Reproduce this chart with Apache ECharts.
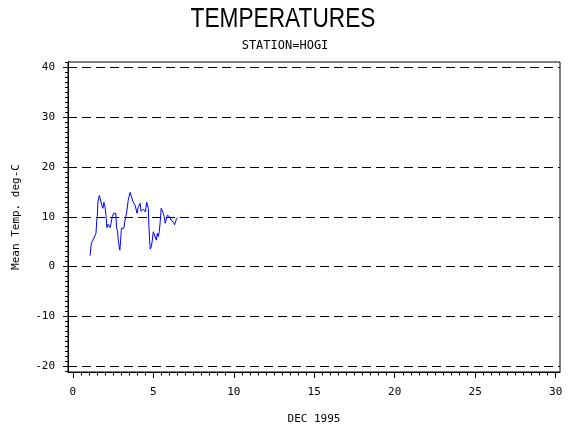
<!DOCTYPE html>
<html>
<head>
<meta charset="utf-8">
<script src="https://cdn.jsdelivr.net/npm/echarts@6/dist/echarts.min.js"></script>
<style>
  html, body { margin: 0; padding: 0; background: #fff; }
  #chart { width: 570px; height: 430px; }
</style>
</head>
<body>
<div id="chart"></div>
<script>
// day of month (DEC 1995) and mean temperature
const days = [1.07, 1.15, 1.25, 1.36, 1.44, 1.48, 1.52, 1.56, 1.65, 1.71, 1.75, 1.81, 1.87, 1.93, 2.0,
  2.06, 2.12, 2.18, 2.26, 2.32, 2.39, 2.45, 2.53, 2.61, 2.67, 2.72, 2.78, 2.82, 2.88, 2.92, 2.96,
  3.02, 3.11, 3.17, 3.23, 3.29, 3.35, 3.44, 3.5, 3.56, 3.62, 3.68, 3.74, 3.81, 3.87, 3.93, 3.99,
  4.05, 4.12, 4.18, 4.24, 4.3, 4.38, 4.44, 4.51, 4.59, 4.65, 4.69, 4.73, 4.77, 4.81, 4.88, 4.94,
  5.0, 5.06, 5.12, 5.19, 5.25, 5.31, 5.37, 5.43, 5.49, 5.56, 5.62, 5.68, 5.74, 5.8, 5.87, 5.95,
  6.01, 6.07, 6.13, 6.2, 6.26, 6.32, 6.38, 6.44, 6.5];
const temps = [2.2, 4.7, 5.3, 5.4, 6.7, 9.0, 10.0, 13.0, 14.3, 14.4, 13.0, 12.2, 11.7, 12.9, 12.0,
  10.3, 7.8, 8.5, 8.7, 7.8, 7.5, 10.0, 10.7, 10.9, 10.7, 7.7, 7.1, 5.3, 5.0, 3.3, 4.7,
  7.7, 7.3, 7.7, 9.0, 10.0, 11.0, 13.3, 13.7, 14.9, 15.2, 14.9, 13.0, 13.1, 12.3, 12.7, 10.7,
  11.8, 12.0, 12.7, 11.1, 11.0, 11.5, 11.1, 11.0, 12.9, 13.0, 11.7, 8.0, 5.3, 3.5, 4.0, 5.3,
  7.0, 7.1, 7.0, 5.3, 6.7, 6.0, 7.0, 9.0, 11.7, 12.0, 10.7, 10.0, 8.7, 9.0, 10.3, 10.7,
  10.0, 9.7, 9.2, 9.0, 8.9, 8.4, 9.0, 9.5, 9.8];

const xMajor = [0, 5, 10, 15, 20, 25, 30];
const yMajor = [-20, -10, 0, 10, 20, 30, 40];

const xMinor = [];
for (let v = 0; v <= 30; v += 0.5) xMinor.push(v);
const yMinor = [];
for (let v = -21; v <= 41; v += 1) yMinor.push(v);

const mono = "'DejaVu Sans Mono', monospace";
const X_MIN = -0.3, X_MAX = 30.27, Y_MIN = -21.2, Y_MAX = 41.1;

const chart = echarts.init(document.getElementById('chart'), null, { renderer: 'canvas' });

const baseAxis = (min, max) => ({
  type: 'value', min, max,
  axisLine: { show: false, onZero: false },
  axisLabel: { show: false },
  splitLine: { show: false },
  axisTick: { show: false }
});

chart.setOption({
  animation: false,
  backgroundColor: '#fff',
  title: {
    text: 'STATION=HOGI', left: 'center', top: 35,
    textStyle: { fontFamily: mono, fontSize: 12, fontWeight: 'normal', color: '#000' }
  },
  graphic: [{
    type: 'text', x: 283, y: 20, scaleX: 0.84, silent: true,
    style: {
      text: 'TEMPERATURES', align: 'center', verticalAlign: 'middle',
      font: "normal 27px 'Liberation Sans', Arial, sans-serif", fill: '#000'
    }
  }],
  grid: { left: 68, right: 10, top: 62, bottom: 56, show: true, borderColor: '#000', borderWidth: 1, backgroundColor: 'transparent' },
  xAxis: [
    {
      ...baseAxis(X_MIN, X_MAX), position: 'bottom',
      axisLine: { show: true, onZero: false, lineStyle: { color: '#000', width: 1 } },
      axisTick: { show: true, customValues: xMajor, length: 6, lineStyle: { color: '#000' } },
      axisLabel: { show: true, customValues: xMajor, margin: 15, color: '#000', fontFamily: mono, fontSize: 11 },
      name: 'DEC 1995', nameLocation: 'middle', nameGap: 42,
      nameTextStyle: { color: '#000', fontFamily: mono, fontSize: 11 }
    },
    {
      ...baseAxis(X_MIN, X_MAX), position: 'bottom',
      axisTick: { show: true, customValues: xMinor, length: 3.5, lineStyle: { color: '#000' } }
    }
  ],
  yAxis: [
    {
      ...baseAxis(Y_MIN, Y_MAX), position: 'left',
      axisLine: { show: true, onZero: false, lineStyle: { color: '#000', width: 1 } },
      axisTick: { show: true, customValues: yMajor, length: 5, lineStyle: { color: '#000' } },
      axisLabel: { show: true, customValues: yMajor, margin: 13, color: '#000', fontFamily: mono, fontSize: 11 },
      splitLine: { show: true, lineStyle: { color: '#000', type: [9, 5], width: 1 } },
      name: 'Mean Temp. deg-C', nameLocation: 'middle', nameGap: 46, nameRotate: 90,
      nameTextStyle: { color: '#000', fontFamily: mono, fontSize: 11 }
    },
    {
      ...baseAxis(Y_MIN, Y_MAX), position: 'left',
      axisTick: { show: true, customValues: yMinor, length: 3, lineStyle: { color: '#000' } }
    }
  ],
  series: [{
    type: 'line',
    xAxisIndex: 0, yAxisIndex: 0,
    data: days.map((d, i) => [d, temps[i]]),
    showSymbol: false,
    lineStyle: { color: '#0000ff', width: 1 },
    silent: true
  }]
});
</script>
</body>
</html>
